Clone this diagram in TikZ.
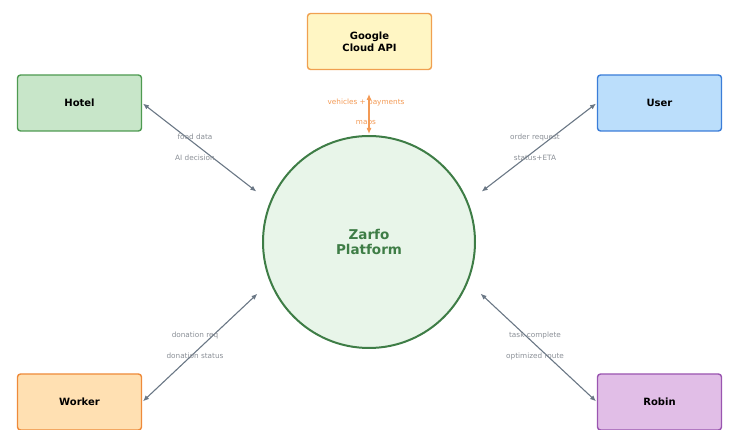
\documentclass[tikz,border=0pt]{standalone}
\usepackage{fontspec}
\setmainfont{DejaVu Sans}
\usepackage{xcolor}
\definecolor{HotelGreen}{HTML}{4E9A51}
\definecolor{HotelFill}{HTML}{C8E6C9}
\definecolor{UserBlue}{HTML}{3B7DD8}
\definecolor{UserFill}{HTML}{BBDEFB}
\definecolor{WorkerOrange}{HTML}{EE8A3A}
\definecolor{WorkerFill}{HTML}{FFE0B2}
\definecolor{RobinPurple}{HTML}{9A55B0}
\definecolor{RobinFill}{HTML}{E1BEE7}
\definecolor{CloudOrange}{HTML}{F0A050}
\definecolor{CloudFill}{HTML}{FFF6C4}
\definecolor{ZarfoGreen}{HTML}{3E7D46}
\definecolor{ZarfoFill}{HTML}{E8F5E9}
\definecolor{LinkGray}{HTML}{6A7785}
\definecolor{LabelGray}{HTML}{8A8F96}
\definecolor{ApiOrange}{HTML}{F39A55}
\usepackage{tikz}
\usetikzlibrary{positioning,arrows.meta}

\tikzset{
  party/.style={rounded corners=3pt,line width=1.4pt,minimum width=124pt,minimum height=56pt,font=\bfseries\fontsize{10}{12}\selectfont,align=center},
  link/.style={{Latex[length=6pt,width=5pt]}-{Latex[length=6pt,width=5pt]},line width=1.1pt,LinkGray,shorten <=1pt,shorten >=17pt},
  tag/.style={font=\fontsize{7.3}{8}\selectfont,text=LabelGray}
}

\begin{document}
\begin{tikzpicture}[x=1pt,y=-1pt]
    \useasboundingbox (0,0) rectangle (729,430);
    % platform in the middle
    \node[circle,draw=ZarfoGreen,fill=ZarfoFill,line width=2pt,minimum size=212pt,text=ZarfoGreen,font=\bfseries\fontsize{13.5}{15}\selectfont,align=center] (zarfo) at (369,242) {Zarfo\\Platform};
    % the parties round it
    \node[party,draw=CloudOrange,fill=CloudFill] (cloud) at (369.5,41.5) {Google\\Cloud API};
    \node[party,draw=HotelGreen,fill=HotelFill] (hotel) at (79.5,103) {Hotel};
    \node[party,draw=UserBlue,fill=UserFill] (user) at (659.5,103) {User};
    \node[party,draw=WorkerOrange,fill=WorkerFill] (worker) at (79.5,402) {Worker};
    \node[party,draw=RobinPurple,fill=RobinFill] (robin) at (659.5,402) {Robin};
    % links
    \coordinate (apitop) at (369,94);
    \coordinate (apibot) at (369,134);
    \draw[link,ApiOrange,shorten <=0pt,shorten >=0pt] (apitop) -- (apibot);
    \draw[link] (hotel.east) -- (zarfo.158);
    \draw[link] (user.west) -- (zarfo.22);
    \draw[link] (worker.east) -- (zarfo.202);
    \draw[link] (robin.west) -- (zarfo.338);
    % labels
    \node[tag,text=ApiOrange] (apiA) at (366,102) {vehicles + payments};
    \node[tag,text=ApiOrange] (apiB) at (366,123) {maps};
    \node[tag] (hotelA) at (195,137) {food data};
    \node[tag] (hotelB) at (195,158) {AI decision};
    \node[tag] (userA) at (535,137) {order request};
    \node[tag] (userB) at (535,158) {status+ETA};
    \node[tag] (workerA) at (195,335) {donation req};
    \node[tag] (workerB) at (195,356) {donation status};
    \node[tag] (robinA) at (535,335) {task complete};
    \node[tag] (robinB) at (535,356) {optimized route};
  \end{tikzpicture}
\end{document}
